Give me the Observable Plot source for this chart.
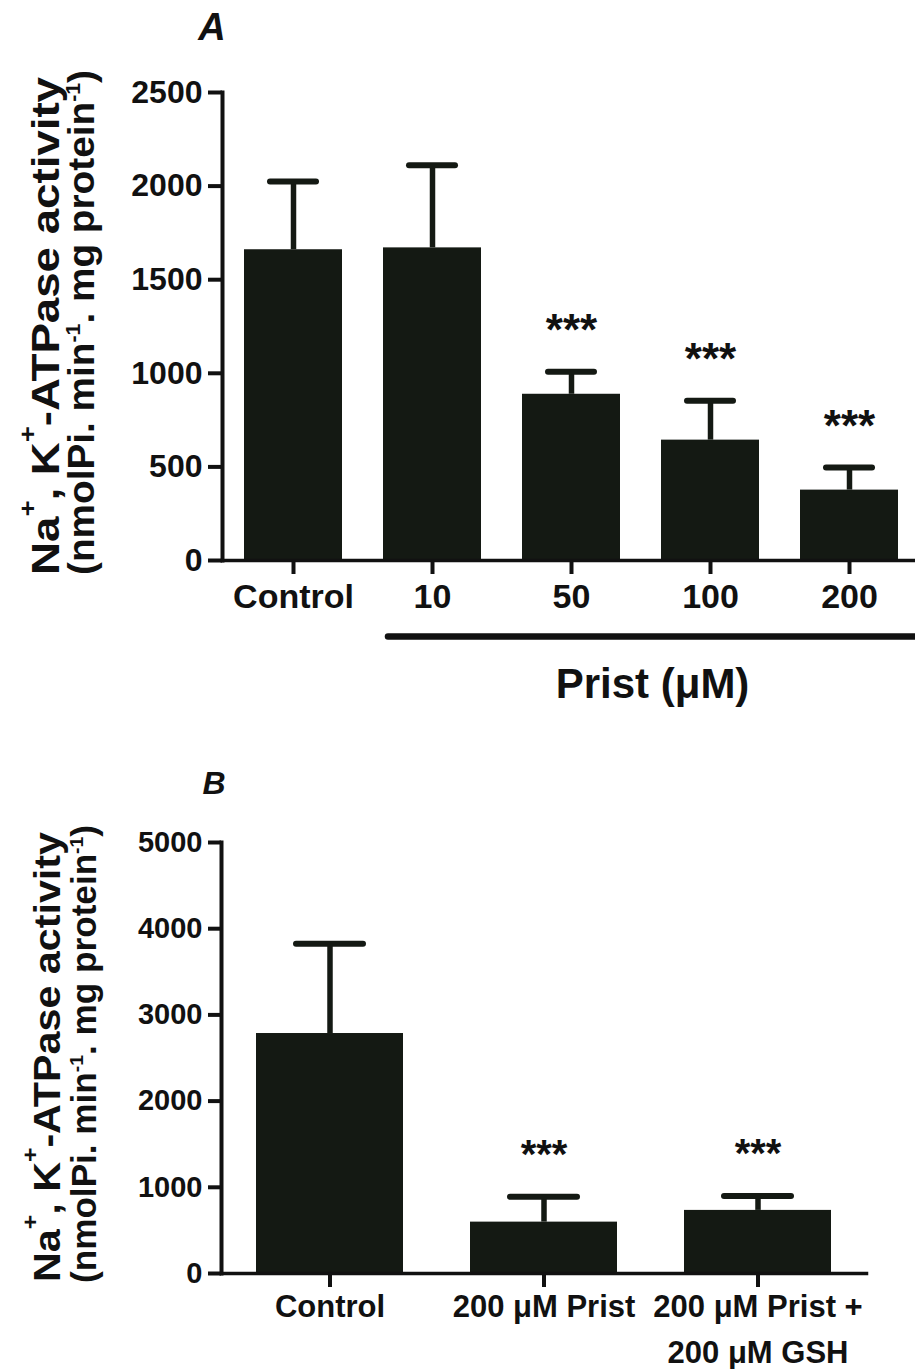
<!DOCTYPE html>
<html>
<head>
<meta charset="utf-8">
<script src="https://cdn.jsdelivr.net/npm/d3@7"></script>
<script src="https://cdn.jsdelivr.net/npm/@observablehq/plot@0.6"></script>
<style>
html, body { margin: 0; padding: 0; background: #fff; overflow: hidden; }
#chart { width: 915px; }
#chart svg { display: block; }
</style>
</head>
<body>
<div id="chart"></div>
<script>
// ---------- data ----------
const catsA = ["Control", "10", "50", "100", "200"];
const meanA = [1660, 1670, 888, 643, 376];
const sdA = [365, 442, 120, 210, 121];
const sigA = ["", "", "***", "***", "***"];
const yTicksA = [0, 500, 1000, 1500, 2000, 2500];

const catsB = ["Control", "200 μM Prist", "200 μM Prist +\n200 μM GSH"];
const meanB = [2784, 596, 732];
const sdB = [1041, 295, 166];
const sigB = ["", "***", "***"];
const yTicksB = [0, 1000, 2000, 3000, 4000, 5000];

// ---------- style ----------
const FONT = "'Liberation Sans', Arial, Helvetica, sans-serif";
const INK = "#111";
const BAR = "#141913";

function yLabel(svg, o) {
  const g = d3.select(svg).append("g")
    .attr("fill", INK).attr("font-family", FONT)
    .attr("font-weight", "bold").attr("text-anchor", "middle");
  const lines = [
    {x: o.x1, cy: o.cy1, fs: o.fs1, len: o.len1, sup: 0.6, shift: 0.6, parts: [["Na", 0], ["+", 1], [", K", 0], ["+", 1], ["-ATPase activity", 0]]},
    {x: o.x2, cy: o.cy2, fs: o.fs2, len: o.len2, sup: 0.55, shift: 0.38, parts: [["(nmolPi. min", 0], ["-1", 1], [". mg protein", 0], ["-1", 1], [")", 0]]}
  ];
  for (const L of lines) {
    const t = g.append("text")
      .attr("transform", `translate(${L.x},${L.cy}) rotate(-90)`)
      .attr("font-size", L.fs)
      .attr("textLength", L.len)
      .attr("lengthAdjust", "spacingAndGlyphs");
    let raised = false;
    for (const [s, isSup] of L.parts) {
      const ts = t.append("tspan").text(s);
      if (isSup) {
        ts.attr("font-size", L.fs * L.sup).attr("dy", -L.fs * L.shift);
        raised = true;
      } else {
        ts.attr("font-size", L.fs);
        if (raised) { ts.attr("dy", L.fs * L.shift); raised = false; }
      }
    }
  }
}

function panel(c) {
  const data = c.cats.map((cat, i) => ({cat, mean: c.mean[i], top: c.mean[i] + c.sd[i], sig: c.sig[i]}));
  const plot = Plot.plot({
    width: 915,
    height: c.height,
    marginLeft: c.left,
    marginRight: c.right,
    marginTop: c.top,
    marginBottom: c.bottom,
    style: {fontFamily: FONT, background: "#fff", color: INK},
    x: {domain: c.cats, range: c.range, paddingInner: c.pi, paddingOuter: c.po, label: null},
    y: {domain: [0, c.ymax], label: null},
    marks: [
      Plot.barY(data, {x: "cat", y: "mean", fill: BAR}),
      Plot.ruleX(data, {x: "cat", y1: "mean", y2: "top", stroke: BAR, strokeWidth: 5.5}),
      Plot.tickY(data, {x: "cat", y: "top", stroke: BAR, strokeWidth: 6, strokeLinecap: "round", insetLeft: c.capInset, insetRight: c.capInset}),
      Plot.text(data.filter(d => d.sig), {x: "cat", y: "top", text: "sig", lineAnchor: "bottom", dy: -(52 - 0.58 * c.starSize), fontSize: c.starSize, fontWeight: "bold", fill: INK}),
      Plot.axisY({ticks: c.yticks, tickFormat: d => String(d), tickSize: c.ytSize, tickPadding: 6, fontSize: c.ytickSize, fontWeight: "bold", strokeWidth: 4, stroke: INK, label: null}),
      Plot.axisX({tickSize: 14, tickPadding: c.xpad, fontSize: c.xtickSize, fontWeight: "bold", strokeWidth: 4, stroke: INK, lineHeight: 1.5, label: null}),
      Plot.frame({anchor: "left", stroke: INK, strokeWidth: 4}),
      Plot.frame({anchor: "bottom", stroke: INK, strokeWidth: 3.5}),
      Plot.text([c.letter], {text: d => d, frameAnchor: "top-left", dx: c.letterDx, dy: c.letterDy, lineAnchor: "bottom", textAnchor: "middle", fontSize: c.letterSize, fontWeight: "bold", fontStyle: "italic", fill: INK}),
      ...(c.extra || [])
    ]
  });
  yLabel(plot, c.ylab);
  document.getElementById("chart").appendChild(plot);
}

panel({
  cats: catsA, mean: meanA, sd: sdA, sig: sigA, yticks: yTicksA, ymax: 2500,
  height: 740, top: 92, bottom: 180, left: 222, right: 0,
  range: [222, 919.5], pi: 0.295, po: 0.143,
  capInset: 26, starSize: 44, ytickSize: 32, ytSize: 14, xtickSize: 34, xpad: -3,
  letter: "A", letterDx: -10.5, letterDy: -53, letterSize: 38,
  ylab: {x1: 59, x2: 94, cy1: 326, cy2: 322.5, fs1: 39, fs2: 36, len1: 498, len2: 505},
  extra: [
    Plot.ruleY([0], {dy: 76, insetLeft: 166, stroke: INK, strokeWidth: 6.5, strokeLinecap: "round"}),
    Plot.text(["Prist (μM)"], {text: d => d, frameAnchor: "bottom-left", dx: 430, dy: 137, lineAnchor: "bottom", textAnchor: "middle", fontSize: 42, fontWeight: "bold", fill: INK})
  ]
});

panel({
  cats: catsB, mean: meanB, sd: sdB, sig: sigB, yticks: yTicksB, ymax: 5000,
  height: 629, top: 102, bottom: 96, left: 221, right: 49,
  range: undefined, pi: 0.313, po: 0.158,
  capInset: 40, starSize: 40, ytickSize: 29, ytSize: 13, xtickSize: 31, xpad: -4,
  letter: "B", letterDx: -7.5, letterDy: -49, letterSize: 32,
  ylab: {x1: 60, x2: 96, cy1: 317, cy2: 314, fs1: 37, fs2: 35, len1: 450, len2: 458}
});
</script>
</body>
</html>
